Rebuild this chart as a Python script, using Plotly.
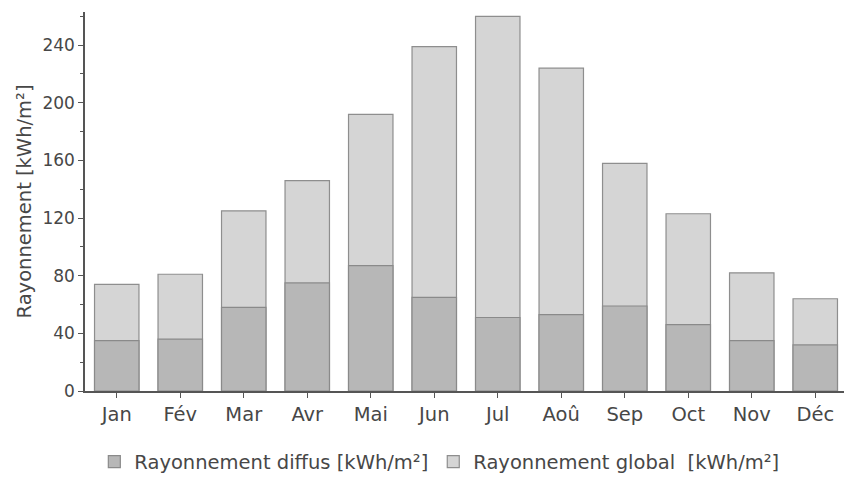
import plotly.graph_objects as go

months = ["Jan", "Fév", "Mar", "Avr", "Mai", "Jun", "Jul", "Aoû", "Sep", "Oct", "Nov", "Déc"]
diffus = [35, 36, 58, 75, 87, 65, 51, 53, 59, 46, 35, 32]
global_ = [74, 81, 125, 146, 192, 239, 260, 224, 158, 123, 82, 64]
y_ticks = [0, 40, 80, 120, 160, 200, 240]

FONT = "DejaVu Sans"
TXT = "#474747"

fig = go.Figure()
fig.add_trace(go.Bar(
    x=months, y=global_, name="Rayonnement global  [kWh/m²]",
    marker=dict(color="#d5d5d5", line=dict(color="#8e8e8e", width=1.2)),
    width=0.7,
))
fig.add_trace(go.Bar(
    x=months, y=diffus, name="Rayonnement diffus [kWh/m²]",
    marker=dict(color="#b7b7b7", line=dict(color="#8a8a8a", width=1.2)),
    width=0.7,
))

fig.update_layout(
    width=852, height=478,
    barmode="overlay",
    plot_bgcolor="white", paper_bgcolor="white",
    margin=dict(l=77, r=13, t=4, b=95, autoexpand=False),
    font=dict(family=FONT, size=17, color=TXT),
    showlegend=True,
    legend=dict(orientation="h", traceorder="reversed", x=0.465, xanchor="center",
                y=-0.187, yanchor="middle",
                font=dict(family=FONT, size=19.5, color=TXT)),
    xaxis=dict(
        showline=True, linecolor="#555555", linewidth=1.5,
        ticks="outside", ticklen=5, tickcolor="#555555", tickangle=0,
        showgrid=False, tickfont=dict(size=19.5, color=TXT),
    ),
    yaxis=dict(
        range=[0, 263], tickvals=y_ticks,
        showline=True, linecolor="#555555", linewidth=1.5,
        ticks="outside", ticklen=5, tickcolor="#555555",
        minor=dict(dtick=20, ticks="outside", ticklen=3, tickcolor="#555555"),
        showgrid=False, zeroline=False,
        tickfont=dict(size=17, color=TXT),
        title=dict(text="Rayonnement [kWh/m²]", font=dict(size=19.5, color=TXT), standoff=6),
    ),
)

fig.write_html("out.html")
